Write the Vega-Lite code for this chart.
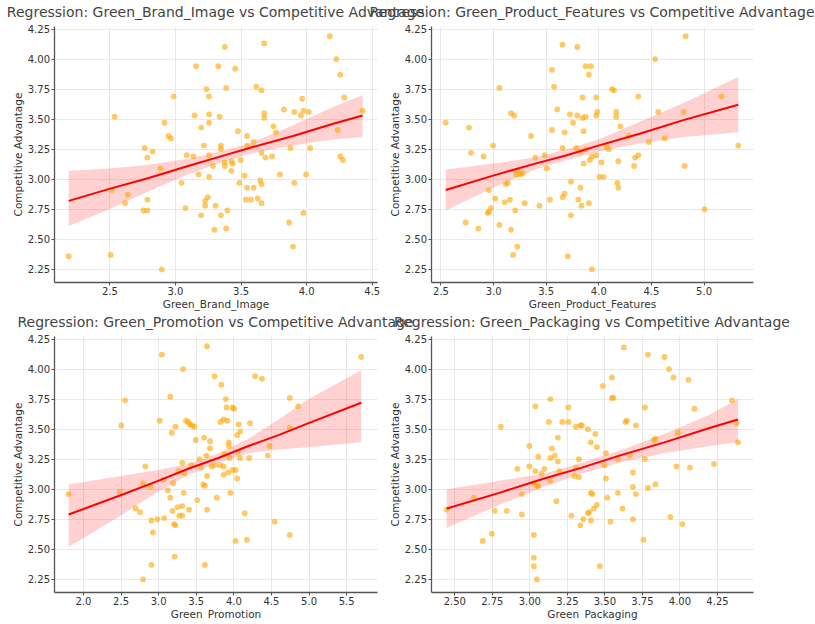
{
  "$schema": "https://vega.github.io/schema/vega-lite/v6.json",
  "background": "white",
  "padding": {"left": 6, "top": 6, "right": 0, "bottom": 0},
  "config": {
    "view": {"stroke": null},
    "font": "DejaVu Sans",
    "axis": {
      "labelFont": "DejaVu Sans", "labelFontSize": 10, "labelColor": "#333333", "labelOverlap": false, "tickCount": 20,
      "titleFont": "DejaVu Sans", "titleFontSize": 10.5, "titleFontWeight": "normal", "titleColor": "#333333",
      "domainColor": "#555555", "domainWidth": 1.3, "tickColor": "#555555", "tickSize": 3, "tickWidth": 1,
      "gridColor": "#e3e3e3", "gridWidth": 0.8, "labelPadding": 1.5
    },
    "axisX": {"titlePadding": 3},
    "axisY": {"titlePadding": 4},
    "title": {"font": "DejaVu Sans", "fontSize": 14, "fontWeight": "normal", "color": "#444444", "offset": 0, "anchor": "middle"}
  },
  "datasets": {
    "p1": [
      {"x":2.19,"y":2.36},{"x":2.51,"y":2.37},{"x":2.90,"y":2.25},{"x":2.54,"y":3.52},{"x":2.52,"y":2.91},{"x":2.64,"y":2.87},{"x":2.62,"y":2.80},{"x":2.77,"y":3.26},{"x":2.79,"y":3.18},{"x":2.83,"y":3.23},{"x":2.79,"y":2.83},{"x":2.76,"y":2.74},{"x":2.79,"y":2.74},{"x":2.89,"y":3.09},{"x":2.92,"y":3.47},{"x":2.95,"y":3.36},{"x":2.97,"y":3.34},{"x":2.99,"y":3.69},{"x":3.05,"y":2.97},{"x":3.08,"y":2.76},{"x":3.09,"y":3.20},{"x":3.14,"y":3.19},{"x":3.16,"y":3.94},{"x":3.15,"y":3.53},{"x":3.18,"y":3.04},{"x":3.20,"y":3.43},{"x":3.22,"y":3.28},{"x":3.20,"y":2.70},{"x":3.23,"y":2.82},{"x":3.23,"y":2.78},{"x":3.24,"y":3.75},{"x":3.25,"y":2.85},{"x":3.26,"y":3.20},{"x":3.26,"y":3.69},{"x":3.26,"y":3.54},{"x":3.26,"y":3.47},{"x":3.26,"y":3.02},{"x":3.29,"y":3.11},{"x":3.31,"y":2.78},{"x":3.30,"y":2.58},{"x":3.33,"y":3.94},{"x":3.34,"y":3.52},{"x":3.35,"y":3.28},{"x":3.35,"y":3.25},{"x":3.35,"y":2.70},{"x":3.38,"y":4.10},{"x":3.39,"y":3.76},{"x":3.38,"y":3.14},{"x":3.38,"y":3.11},{"x":3.39,"y":2.59},{"x":3.40,"y":2.74},{"x":3.43,"y":3.15},{"x":3.44,"y":3.13},{"x":3.43,"y":3.07},{"x":3.46,"y":3.92},{"x":3.48,"y":3.40},{"x":3.49,"y":2.97},{"x":3.50,"y":3.16},{"x":3.53,"y":3.03},{"x":3.55,"y":2.93},{"x":3.55,"y":3.36},{"x":3.55,"y":3.28},{"x":3.54,"y":2.83},{"x":3.58,"y":2.83},{"x":3.60,"y":3.31},{"x":3.60,"y":2.93},{"x":3.62,"y":3.77},{"x":3.63,"y":2.84},{"x":3.65,"y":2.99},{"x":3.66,"y":3.74},{"x":3.66,"y":3.22},{"x":3.66,"y":2.96},{"x":3.66,"y":2.80},{"x":3.68,"y":4.13},{"x":3.68,"y":3.55},{"x":3.68,"y":3.51},{"x":3.69,"y":3.18},{"x":3.75,"y":3.44},{"x":3.77,"y":3.39},{"x":3.74,"y":3.19},{"x":3.83,"y":3.58},{"x":3.80,"y":3.04},{"x":3.87,"y":2.64},{"x":3.88,"y":3.26},{"x":3.91,"y":2.97},{"x":3.91,"y":3.56},{"x":3.90,"y":2.44},{"x":3.97,"y":3.67},{"x":3.96,"y":3.53},{"x":3.98,"y":3.57},{"x":3.98,"y":2.72},{"x":4.00,"y":3.04},{"x":4.02,"y":3.56},{"x":4.03,"y":3.26},{"x":4.18,"y":4.19},{"x":4.23,"y":4.00},{"x":4.26,"y":3.87},{"x":4.24,"y":3.41},{"x":4.26,"y":3.19},{"x":4.28,"y":3.16},{"x":4.29,"y":3.68},{"x":4.43,"y":3.57}
    ],
    "r1": [
      {"x":2.19,"fit":2.82,"lo":2.61,"hi":3.07},{"x":2.5,"fit":2.92,"lo":2.75,"hi":3.09},{"x":2.8,"fit":3.01,"lo":2.90,"hi":3.12},{"x":3.1,"fit":3.11,"lo":3.04,"hi":3.17},{"x":3.35,"fit":3.19,"lo":3.14,"hi":3.23},{"x":3.6,"fit":3.27,"lo":3.22,"hi":3.31},{"x":3.9,"fit":3.36,"lo":3.28,"hi":3.45},{"x":4.2,"fit":3.46,"lo":3.33,"hi":3.60},{"x":4.43,"fit":3.53,"lo":3.35,"hi":3.70}
    ],
    "p2": [
      {"x":2.55,"y":3.47},{"x":2.74,"y":2.64},{"x":2.77,"y":3.43},{"x":2.79,"y":3.22},{"x":2.86,"y":2.59},{"x":2.91,"y":3.19},{"x":2.96,"y":2.91},{"x":3.00,"y":3.28},{"x":2.96,"y":2.73},{"x":2.95,"y":2.72},{"x":2.98,"y":2.76},{"x":3.02,"y":2.84},{"x":3.06,"y":3.76},{"x":3.06,"y":2.62},{"x":3.11,"y":2.81},{"x":3.12,"y":2.96},{"x":3.14,"y":2.97},{"x":3.16,"y":2.83},{"x":3.17,"y":3.55},{"x":3.20,"y":3.53},{"x":3.17,"y":2.58},{"x":3.19,"y":2.37},{"x":3.21,"y":2.74},{"x":3.23,"y":2.44},{"x":3.22,"y":3.04},{"x":3.23,"y":3.07},{"x":3.26,"y":3.04},{"x":3.28,"y":3.05},{"x":3.30,"y":2.80},{"x":3.36,"y":3.36},{"x":3.40,"y":3.18},{"x":3.44,"y":2.78},{"x":3.49,"y":3.20},{"x":3.51,"y":3.09},{"x":3.54,"y":2.83},{"x":3.56,"y":3.91},{"x":3.56,"y":3.41},{"x":3.58,"y":3.77},{"x":3.61,"y":3.58},{"x":3.66,"y":4.12},{"x":3.66,"y":3.26},{"x":3.66,"y":2.85},{"x":3.68,"y":2.88},{"x":3.68,"y":3.39},{"x":3.73,"y":3.54},{"x":3.74,"y":2.98},{"x":3.76,"y":3.47},{"x":3.74,"y":2.70},{"x":3.71,"y":2.36},{"x":3.80,"y":4.10},{"x":3.79,"y":3.26},{"x":3.80,"y":3.53},{"x":3.81,"y":2.83},{"x":3.83,"y":2.93},{"x":3.83,"y":3.23},{"x":3.84,"y":2.78},{"x":3.85,"y":3.68},{"x":3.85,"y":3.51},{"x":3.86,"y":3.13},{"x":3.86,"y":3.40},{"x":3.88,"y":3.94},{"x":3.88,"y":3.52},{"x":3.88,"y":3.25},{"x":3.91,"y":3.87},{"x":3.91,"y":2.80},{"x":3.92,"y":3.16},{"x":3.93,"y":3.94},{"x":3.94,"y":3.19},{"x":3.94,"y":2.25},{"x":3.98,"y":3.20},{"x":3.98,"y":3.68},{"x":3.99,"y":3.56},{"x":3.98,"y":3.53},{"x":4.01,"y":3.02},{"x":4.03,"y":3.14},{"x":4.05,"y":3.02},{"x":4.08,"y":3.27},{"x":4.10,"y":3.25},{"x":4.13,"y":3.75},{"x":4.15,"y":3.74},{"x":4.17,"y":3.56},{"x":4.17,"y":3.52},{"x":4.18,"y":2.97},{"x":4.19,"y":2.93},{"x":4.19,"y":3.15},{"x":4.21,"y":3.44},{"x":4.29,"y":3.36},{"x":4.34,"y":3.11},{"x":4.35,"y":3.18},{"x":4.38,"y":3.20},{"x":4.38,"y":3.69},{"x":4.48,"y":3.31},{"x":4.54,"y":4.00},{"x":4.57,"y":3.56},{"x":4.63,"y":3.34},{"x":4.81,"y":3.56},{"x":4.82,"y":3.11},{"x":4.83,"y":4.19},{"x":5.01,"y":2.75},{"x":5.17,"y":3.69},{"x":5.33,"y":3.28}
    ],
    "r2": [
      {"x":2.55,"fit":2.91,"lo":2.74,"hi":3.08},{"x":3.0,"fit":3.03,"lo":2.93,"hi":3.13},{"x":3.4,"fit":3.13,"lo":3.08,"hi":3.18},{"x":3.7,"fit":3.20,"lo":3.16,"hi":3.25},{"x":4.0,"fit":3.28,"lo":3.23,"hi":3.33},{"x":4.4,"fit":3.38,"lo":3.30,"hi":3.48},{"x":4.8,"fit":3.49,"lo":3.35,"hi":3.63},{"x":5.33,"fit":3.62,"lo":3.39,"hi":3.85}
    ],
    "p3": [
      {"x":1.81,"y":2.96},{"x":2.49,"y":2.98},{"x":2.51,"y":3.53},{"x":2.56,"y":3.74},{"x":2.70,"y":2.84},{"x":2.76,"y":2.81},{"x":2.83,"y":3.19},{"x":2.80,"y":3.05},{"x":2.90,"y":3.02},{"x":2.91,"y":2.74},{"x":2.93,"y":2.64},{"x":2.91,"y":2.37},{"x":2.80,"y":2.25},{"x":3.05,"y":4.12},{"x":3.02,"y":3.57},{"x":2.99,"y":2.75},{"x":3.07,"y":3.08},{"x":3.08,"y":2.76},{"x":3.13,"y":2.99},{"x":3.16,"y":3.77},{"x":3.16,"y":2.93},{"x":3.18,"y":3.47},{"x":3.20,"y":3.05},{"x":3.19,"y":2.82},{"x":3.21,"y":2.71},{"x":3.23,"y":2.70},{"x":3.23,"y":3.52},{"x":3.22,"y":2.44},{"x":3.26,"y":2.85},{"x":3.27,"y":3.15},{"x":3.28,"y":2.78},{"x":3.32,"y":2.86},{"x":3.32,"y":3.22},{"x":3.32,"y":2.78},{"x":3.33,"y":4.00},{"x":3.34,"y":2.97},{"x":3.35,"y":3.13},{"x":3.37,"y":3.57},{"x":3.40,"y":3.56},{"x":3.42,"y":3.54},{"x":3.41,"y":2.83},{"x":3.44,"y":3.20},{"x":3.45,"y":3.53},{"x":3.48,"y":3.52},{"x":3.50,"y":3.41},{"x":3.52,"y":2.91},{"x":3.55,"y":3.25},{"x":3.57,"y":3.18},{"x":3.60,"y":3.04},{"x":3.62,"y":3.03},{"x":3.61,"y":3.43},{"x":3.64,"y":3.28},{"x":3.62,"y":2.37},{"x":3.65,"y":4.19},{"x":3.65,"y":2.83},{"x":3.65,"y":3.11},{"x":3.69,"y":3.34},{"x":3.69,"y":3.40},{"x":3.71,"y":3.19},{"x":3.75,"y":3.20},{"x":3.75,"y":3.94},{"x":3.78,"y":2.93},{"x":3.82,"y":3.20},{"x":3.83,"y":3.56},{"x":3.84,"y":3.87},{"x":3.87,"y":3.58},{"x":3.87,"y":3.19},{"x":3.87,"y":3.12},{"x":3.88,"y":3.29},{"x":3.90,"y":3.75},{"x":3.91,"y":3.68},{"x":3.92,"y":3.57},{"x":3.93,"y":3.14},{"x":3.94,"y":3.39},{"x":3.94,"y":3.36},{"x":3.95,"y":3.26},{"x":3.96,"y":2.97},{"x":3.99,"y":3.68},{"x":4.01,"y":3.67},{"x":3.99,"y":3.16},{"x":4.03,"y":3.16},{"x":4.05,"y":3.45},{"x":4.06,"y":3.31},{"x":4.07,"y":3.54},{"x":4.09,"y":3.48},{"x":4.09,"y":3.26},{"x":4.05,"y":3.09},{"x":4.03,"y":2.57},{"x":4.15,"y":2.80},{"x":4.18,"y":2.58},{"x":4.22,"y":3.55},{"x":4.21,"y":3.26},{"x":4.29,"y":3.94},{"x":4.38,"y":3.92},{"x":4.48,"y":3.36},{"x":4.46,"y":3.28},{"x":4.55,"y":2.73},{"x":4.75,"y":3.76},{"x":4.75,"y":3.51},{"x":4.75,"y":2.62},{"x":4.86,"y":3.69},{"x":5.70,"y":4.10}
    ],
    "r3": [
      {"x":1.81,"fit":2.79,"lo":2.52,"hi":3.04},{"x":2.5,"fit":2.95,"lo":2.78,"hi":3.11},{"x":3.0,"fit":3.07,"lo":2.98,"hi":3.16},{"x":3.4,"fit":3.17,"lo":3.12,"hi":3.21},{"x":3.8,"fit":3.26,"lo":3.22,"hi":3.30},{"x":4.2,"fit":3.36,"lo":3.30,"hi":3.42},{"x":4.6,"fit":3.45,"lo":3.33,"hi":3.58},{"x":5.0,"fit":3.55,"lo":3.35,"hi":3.75},{"x":5.7,"fit":3.72,"lo":3.39,"hi":3.99}
    ],
    "p4": [
      {"x":2.45,"y":2.83},{"x":2.63,"y":2.93},{"x":2.69,"y":2.57},{"x":2.75,"y":2.63},{"x":2.77,"y":2.82},{"x":2.85,"y":2.82},{"x":2.81,"y":3.52},{"x":2.92,"y":3.17},{"x":2.95,"y":2.96},{"x":2.95,"y":2.79},{"x":3.00,"y":3.36},{"x":3.00,"y":3.19},{"x":3.04,"y":3.69},{"x":3.03,"y":2.62},{"x":3.03,"y":2.43},{"x":3.03,"y":2.36},{"x":3.05,"y":2.25},{"x":3.04,"y":3.15},{"x":3.03,"y":3.05},{"x":3.05,"y":3.03},{"x":3.06,"y":3.27},{"x":3.08,"y":3.13},{"x":3.10,"y":3.17},{"x":3.06,"y":3.03},{"x":3.13,"y":3.56},{"x":3.14,"y":3.26},{"x":3.14,"y":3.75},{"x":3.14,"y":3.07},{"x":3.15,"y":3.34},{"x":3.17,"y":3.28},{"x":3.18,"y":2.90},{"x":3.19,"y":3.43},{"x":3.19,"y":3.23},{"x":3.20,"y":3.15},{"x":3.22,"y":3.56},{"x":3.26,"y":3.56},{"x":3.26,"y":3.68},{"x":3.28,"y":2.78},{"x":3.31,"y":3.52},{"x":3.30,"y":3.11},{"x":3.33,"y":3.10},{"x":3.31,"y":3.18},{"x":3.33,"y":3.25},{"x":3.34,"y":2.70},{"x":3.34,"y":3.53},{"x":3.35,"y":3.53},{"x":3.36,"y":2.75},{"x":3.39,"y":3.50},{"x":3.39,"y":2.80},{"x":3.40,"y":2.81},{"x":3.41,"y":3.39},{"x":3.41,"y":2.97},{"x":3.42,"y":2.96},{"x":3.41,"y":2.74},{"x":3.43,"y":2.84},{"x":3.44,"y":3.46},{"x":3.45,"y":2.87},{"x":3.45,"y":3.35},{"x":3.47,"y":2.36},{"x":3.49,"y":3.86},{"x":3.50,"y":3.20},{"x":3.51,"y":3.30},{"x":3.51,"y":3.09},{"x":3.52,"y":2.93},{"x":3.54,"y":2.73},{"x":3.55,"y":3.93},{"x":3.55,"y":3.76},{"x":3.56,"y":3.76},{"x":3.59,"y":3.25},{"x":3.59,"y":2.97},{"x":3.62,"y":2.84},{"x":3.63,"y":4.18},{"x":3.64,"y":3.56},{"x":3.65,"y":3.57},{"x":3.67,"y":3.28},{"x":3.69,"y":3.14},{"x":3.69,"y":3.02},{"x":3.69,"y":2.75},{"x":3.71,"y":3.53},{"x":3.71,"y":2.96},{"x":3.76,"y":2.58},{"x":3.77,"y":3.25},{"x":3.77,"y":3.68},{"x":3.79,"y":4.12},{"x":3.79,"y":3.01},{"x":3.83,"y":3.41},{"x":3.84,"y":3.42},{"x":3.84,"y":3.04},{"x":3.90,"y":4.10},{"x":3.93,"y":4.00},{"x":3.96,"y":3.93},{"x":3.94,"y":2.77},{"x":3.98,"y":3.19},{"x":3.99,"y":3.47},{"x":4.02,"y":2.71},{"x":4.06,"y":3.91},{"x":4.07,"y":3.18},{"x":4.10,"y":3.67},{"x":4.23,"y":3.21},{"x":4.35,"y":3.74},{"x":4.38,"y":3.55},{"x":4.39,"y":3.39}
    ],
    "r4": [
      {"x":2.45,"fit":2.84,"lo":2.68,"hi":3.00},{"x":2.8,"fit":2.97,"lo":2.87,"hi":3.07},{"x":3.1,"fit":3.09,"lo":3.02,"hi":3.13},{"x":3.35,"fit":3.18,"lo":3.13,"hi":3.22},{"x":3.6,"fit":3.28,"lo":3.22,"hi":3.32},{"x":3.9,"fit":3.39,"lo":3.30,"hi":3.46},{"x":4.2,"fit":3.51,"lo":3.36,"hi":3.62},{"x":4.39,"fit":3.58,"lo":3.39,"hi":3.75}
    ]
  },
  "columns": 2,
  "spacing": {"row": 54, "column": 54},
  "bounds": "flush",
  "concat": [
    {
      "width": 323, "height": 256,
      "title": "Regression: Green_Brand_Image vs Competitive Advantage",
      "layer": [
        {"data": {"name": "r1"}, "mark": {"type": "area", "color": "#ff0000", "opacity": 0.18},
         "encoding": {"x": {"field": "x", "type": "quantitative", "scale": {"domain": [2.078, 4.54], "nice": false, "zero": false}, "axis": {"title": "Green_Brand_Image", "values": [2.5, 3, 3.5, 4, 4.5], "format": ".1f", "tickCount": 20}},
                      "y": {"field": "lo", "type": "quantitative", "scale": {"domain": [2.145, 4.275], "nice": false, "zero": false}, "axis": {"title": "Competitive Advantage", "values": [2.25, 2.5, 2.75, 3, 3.25, 3.5, 3.75, 4, 4.25], "format": ".2f", "tickCount": 20}},
                      "y2": {"field": "hi"}}},
        {"data": {"name": "p1"}, "mark": {"type": "circle", "size": 34, "color": "#ffa500", "opacity": 0.6},
         "encoding": {"x": {"field": "x", "type": "quantitative"}, "y": {"field": "y", "type": "quantitative"}}},
        {"data": {"name": "r1"}, "mark": {"type": "line", "color": "#ff0000", "strokeWidth": 2},
         "encoding": {"x": {"field": "x", "type": "quantitative"}, "y": {"field": "fit", "type": "quantitative"}}}
      ]
    },
    {
      "width": 322, "height": 256,
      "title": "Regression: Green_Product_Features vs Competitive Advantage",
      "layer": [
        {"data": {"name": "r2"}, "mark": {"type": "area", "color": "#ff0000", "opacity": 0.18},
         "encoding": {"x": {"field": "x", "type": "quantitative", "scale": {"domain": [2.41, 5.47], "nice": false, "zero": false}, "axis": {"title": "Green_Product_Features", "values": [2.5, 3, 3.5, 4, 4.5, 5], "format": ".1f", "tickCount": 20}},
                      "y": {"field": "lo", "type": "quantitative", "scale": {"domain": [2.145, 4.275], "nice": false, "zero": false}, "axis": {"title": "Competitive Advantage", "values": [2.25, 2.5, 2.75, 3, 3.25, 3.5, 3.75, 4, 4.25], "format": ".2f", "tickCount": 20}},
                      "y2": {"field": "hi"}}},
        {"data": {"name": "p2"}, "mark": {"type": "circle", "size": 34, "color": "#ffa500", "opacity": 0.6},
         "encoding": {"x": {"field": "x", "type": "quantitative"}, "y": {"field": "y", "type": "quantitative"}}},
        {"data": {"name": "r2"}, "mark": {"type": "line", "color": "#ff0000", "strokeWidth": 2},
         "encoding": {"x": {"field": "x", "type": "quantitative"}, "y": {"field": "fit", "type": "quantitative"}}}
      ]
    },
    {
      "width": 323, "height": 256,
      "title": "Regression: Green_Promotion vs Competitive Advantage",
      "layer": [
        {"data": {"name": "r3"}, "mark": {"type": "area", "color": "#ff0000", "opacity": 0.18},
         "encoding": {"x": {"field": "x", "type": "quantitative", "scale": {"domain": [1.615, 5.91], "nice": false, "zero": false}, "axis": {"title": "Green_Promotion", "values": [2, 2.5, 3, 3.5, 4, 4.5, 5, 5.5], "format": ".1f", "tickCount": 20}},
                      "y": {"field": "lo", "type": "quantitative", "scale": {"domain": [2.145, 4.275], "nice": false, "zero": false}, "axis": {"title": "Competitive Advantage", "values": [2.25, 2.5, 2.75, 3, 3.25, 3.5, 3.75, 4, 4.25], "format": ".2f", "tickCount": 20}},
                      "y2": {"field": "hi"}}},
        {"data": {"name": "p3"}, "mark": {"type": "circle", "size": 34, "color": "#ffa500", "opacity": 0.6},
         "encoding": {"x": {"field": "x", "type": "quantitative"}, "y": {"field": "y", "type": "quantitative"}}},
        {"data": {"name": "r3"}, "mark": {"type": "line", "color": "#ff0000", "strokeWidth": 2},
         "encoding": {"x": {"field": "x", "type": "quantitative"}, "y": {"field": "fit", "type": "quantitative"}}}
      ]
    },
    {
      "width": 322, "height": 256,
      "title": "Regression: Green_Packaging vs Competitive Advantage",
      "layer": [
        {"data": {"name": "r4"}, "mark": {"type": "area", "color": "#ff0000", "opacity": 0.18},
         "encoding": {"x": {"field": "x", "type": "quantitative", "scale": {"domain": [2.345, 4.49], "nice": false, "zero": false}, "axis": {"title": "Green_Packaging", "values": [2.5, 2.75, 3, 3.25, 3.5, 3.75, 4, 4.25], "format": ".2f", "tickCount": 20}},
                      "y": {"field": "lo", "type": "quantitative", "scale": {"domain": [2.145, 4.275], "nice": false, "zero": false}, "axis": {"title": "Competitive Advantage", "values": [2.25, 2.5, 2.75, 3, 3.25, 3.5, 3.75, 4, 4.25], "format": ".2f", "tickCount": 20}},
                      "y2": {"field": "hi"}}},
        {"data": {"name": "p4"}, "mark": {"type": "circle", "size": 34, "color": "#ffa500", "opacity": 0.6},
         "encoding": {"x": {"field": "x", "type": "quantitative"}, "y": {"field": "y", "type": "quantitative"}}},
        {"data": {"name": "r4"}, "mark": {"type": "line", "color": "#ff0000", "strokeWidth": 2},
         "encoding": {"x": {"field": "x", "type": "quantitative"}, "y": {"field": "fit", "type": "quantitative"}}}
      ]
    }
  ]
}
